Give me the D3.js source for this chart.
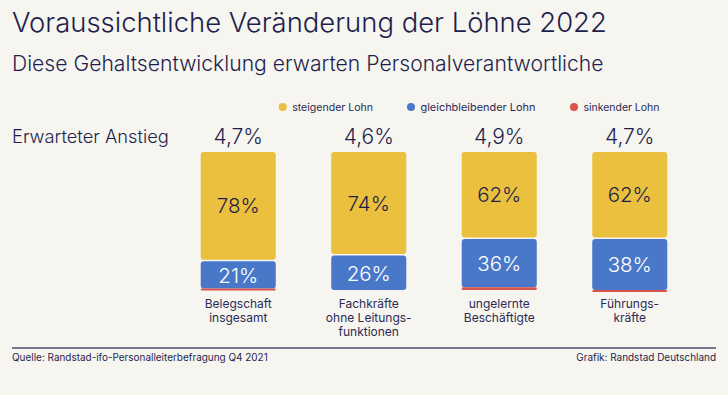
<!DOCTYPE html>
<html>
<head>
<meta charset="utf-8">
<script src="https://cdn.jsdelivr.net/npm/d3@7"></script>
<style>
  body { margin: 0; background: #f6f5f0; }
  svg { display: block; font-family: Inter, "Noto Sans", sans-serif; }
</style>
</head>
<body>
<div class="canvas"></div>
<script>
var categories = ["Belegschaft\ninsgesamt", "Fachkräfte\nohne Leitungs-\nfunktionen", "ungelernte\nBeschäftigte", "Führungs-\nkräfte"];
var anstieg = [4.7, 4.6, 4.9, 4.7];
var steigend = [78, 74, 62, 62];
var gleichbleibend = [21, 26, 36, 38];
var sinkend = [1, 0, 2, 1];
var seriesNames = ["steigender Lohn", "gleichbleibender Lohn", "sinkender Lohn"];
var seriesColors = ["#ebc03e", "#4a78c8", "#d9544a"];

var width = 728, height = 395;
var ink = "#1f1f4d";

var svg = d3.select(".canvas").append("svg").attr("width", width).attr("height", height);
svg.append("rect").attr("width", width).attr("height", height).attr("fill", "#f6f5f0");

// fit a text to a target width by changing its font size
function fit(sel, w) {
  var len = sel.node().getComputedTextLength();
  var fs = parseFloat(sel.attr("font-size"));
  sel.attr("font-size", fs * w / len);
}

svg.append("text").attr("x", 12).attr("y", 32).attr("font-size", 28).attr("font-weight", 300)
  .attr("fill", ink).text("Voraussichtliche Veränderung der Löhne 2022").call(fit, 595);
svg.append("text").attr("x", 12).attr("y", 71).attr("font-size", 20).attr("font-weight", 300)
  .attr("fill", ink).text("Diese Gehaltsentwicklung erwarten Personalverantwortliche").call(fit, 592);
svg.append("text").attr("x", 12).attr("y", 143).attr("font-size", 19).attr("font-weight", 300)
  .attr("fill", ink).text("Erwarteter Anstieg").call(fit, 157);

// legend
var legendX = [282.7, 411, 574];
var legendW = [81, 115, 76];
var legend = svg.append("g");
seriesNames.forEach(function(name, i) {
  legend.append("circle").attr("cx", legendX[i]).attr("cy", 107).attr("r", 4).attr("fill", seriesColors[i]);
  legend.append("text").attr("x", legendX[i] + 9.5).attr("y", 111).attr("font-size", 11.5)
    .attr("fill", "#2b2b55").text(name).call(fit, legendW[i]);
});

var rows = categories.map(function(c, i) {
  return {cat: c, s: steigend[i], g: gleichbleibend[i], k: sinkend[i], a: anstieg[i]};
});
var stacked = d3.stack().keys(["s", "g", "k"])(rows);

var scaleX = d3.scaleBand().domain(categories).range([173, 695]).paddingInner(0.425).paddingOuter(0.2125);
var scaleY = d3.scaleLinear().domain([0, 100]).range([152, 290]);

var groups = svg.append("g").selectAll("g").data(stacked).enter().append("g")
  .attr("fill", function(d, i) { return seriesColors[i]; });

groups.selectAll("rect").data(function(d) { return d; }).enter().append("rect")
  .filter(function(d) { return d[1] - d[0] > 0; })
  .attr("x", function(d) { return scaleX(d.data.cat); })
  .attr("width", scaleX.bandwidth())
  .attr("y", function(d) { return scaleY(d[0]) + (d[0] > 0 && d[0] == d.data.s ? 1.5 : 0); })
  .attr("height", function(d, i) {
    var h = scaleY(d[1]) - scaleY(d[0]);
    if (d[0] > 0 && d[0] == d.data.s) h -= 1.5;
    return Math.max(h, 2);
  })
  .attr("rx", function(d) { return d[0] >= d.data.s + d.data.g ? 1 : 3; });

// labels inside segments
stacked.slice(0, 2).forEach(function(layer, li) {
  svg.append("g").selectAll("text").data(layer).enter().append("text")
    .attr("x", function(d) { return scaleX(d.data.cat) + scaleX.bandwidth() / 2; })
    .attr("y", function(d) { return (scaleY(d[0]) + scaleY(d[1])) / 2 + 7.5 + (li == 1 ? 1 : 0); })
    .attr("text-anchor", "middle").attr("font-size", 20.5).attr("font-weight", 300)
    .attr("fill", li == 0 ? ink : "#fff")
    .text(function(d) { return (d[1] - d[0]) + "%"; });
});

// expected rise above bars
svg.append("g").selectAll("text").data(rows).enter().append("text")
  .attr("x", function(d) { return scaleX(d.cat) + scaleX.bandwidth() / 2; })
  .attr("y", 144)
  .attr("text-anchor", "middle").attr("font-size", 21).attr("font-weight", 300).attr("fill", ink)
  .text(function(d) { return d3.format(".1f")(d.a).replace(".", ",") + "%"; });

// category labels
var catLabels = svg.append("g").selectAll("text").data(categories).enter().append("text")
  .attr("x", function(d) { return scaleX(d) + scaleX.bandwidth() / 2; })
  .attr("y", 308)
  .attr("text-anchor", "middle").attr("font-size", 12).attr("fill", "#2b2b55");
catLabels.selectAll("tspan").data(function(d) { return d.split("\n"); }).enter().append("tspan")
  .attr("x", function() { return d3.select(this.parentNode).attr("x"); })
  .attr("dy", function(d, i) { return i == 0 ? 0 : 14; })
  .text(function(d) { return d; });

// footer
svg.append("line").attr("x1", 12).attr("x2", 716).attr("y1", 348).attr("y2", 348)
  .attr("stroke", "#4a4a6a").attr("stroke-width", 1.5);
svg.append("text").attr("x", 12).attr("y", 361).attr("font-size", 11).attr("fill", ink)
  .text("Quelle: Randstad-ifo-Personalleiterbefragung Q4 2021").call(fit, 256);
svg.append("text").attr("x", 716).attr("y", 361).attr("font-size", 11).attr("fill", ink)
  .attr("text-anchor", "end").text("Grafik: Randstad Deutschland").call(fit, 140);
</script>
</body>
</html>
